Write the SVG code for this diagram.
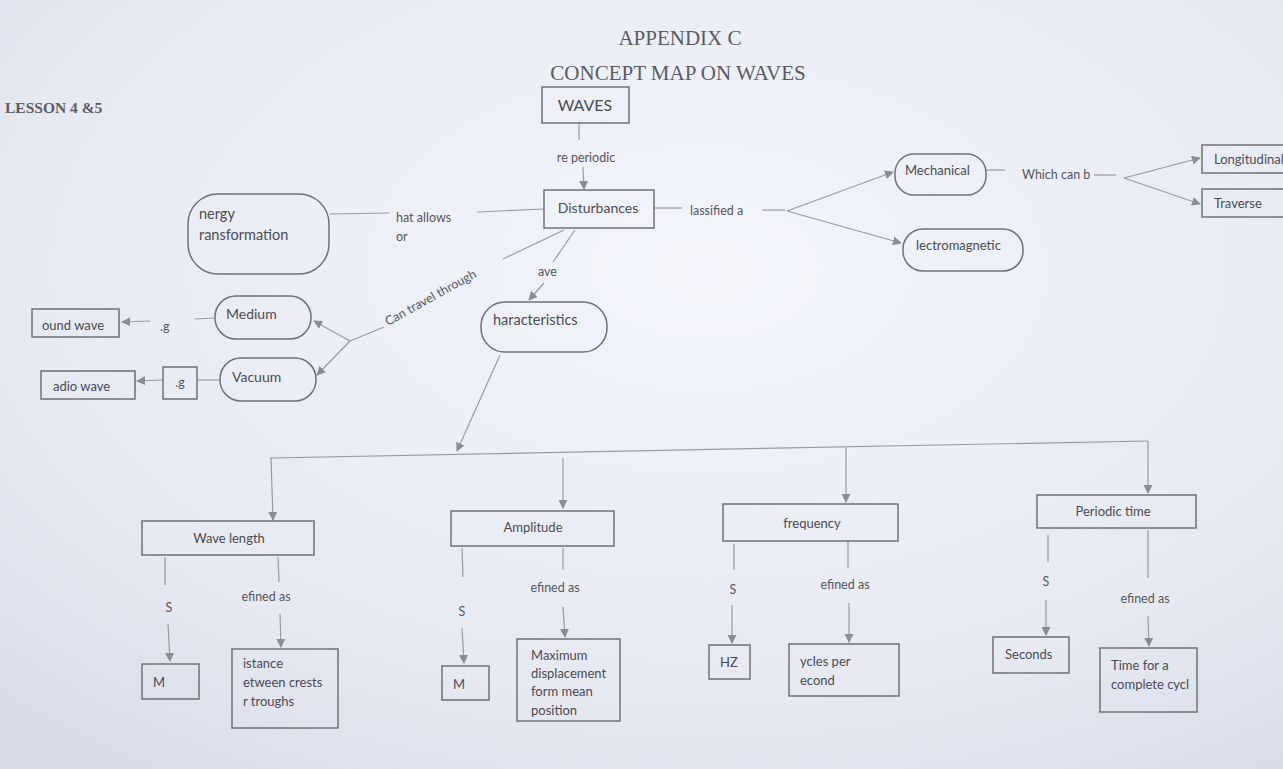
<svg xmlns="http://www.w3.org/2000/svg" width="1283" height="769" viewBox="0 0 1283 769">
<defs>
<radialGradient id="bg" cx="0.55" cy="0.35" r="0.8">
<stop offset="0" stop-color="#f3f5fb"/>
<stop offset="0.7" stop-color="#e6e9f2"/>
<stop offset="1" stop-color="#d8dce7"/>
</radialGradient>
<marker id="ah" viewBox="0 0 10 10" refX="9" refY="5" markerWidth="9" markerHeight="9" orient="auto" markerUnits="userSpaceOnUse">
<path d="M0,0 L10,5 L0,10 z" fill="#8a8d95"/>
</marker>
<style>
.bx{fill:none;stroke:#6f7177;stroke-width:1.5}
.ln{fill:none;stroke:#999ba2;stroke-width:1.2}
.ar{fill:none;stroke:#999ba2;stroke-width:1.2;marker-end:url(#ah)}
.t{font-family:Lato,"Open Sans",sans-serif;font-size:13px;fill:#4a4c52}
.tt{font-family:"Liberation Serif",serif;font-size:21px;fill:#5a5c62}
.lb{font-family:Lato,"Open Sans",sans-serif;font-size:12.5px;fill:#55575d}
</style>
</defs>
<rect width="1283" height="769" fill="url(#bg)"/>
<text class="tt" x="680" y="45" text-anchor="middle">APPENDIX C</text>
<text class="tt" x="678" y="80" text-anchor="middle">CONCEPT MAP ON WAVES</text>
<text x="5" y="113" style="font-family:'Liberation Serif',serif;font-size:15.5px;font-weight:bold;fill:#5a5c62">LESSON 4 &amp;5</text>

<g id="connectors">
<line class="ln" x1="579" y1="123" x2="579" y2="140"/>
<text class="lb" x="586" y="162" text-anchor="middle">re periodic</text>
<line class="ar" x1="583" y1="167" x2="584" y2="189"/>
<line class="ln" x1="544" y1="209" x2="477" y2="212"/>
<text class="lb" x="396" y="222">hat allows</text>
<text class="lb" x="396" y="241">or</text>
<line class="ln" x1="389" y1="213" x2="330" y2="214"/>
<line class="ln" x1="654" y1="208" x2="682" y2="208"/>
<text class="lb" x="690" y="215">lassified a</text>
<line class="ln" x1="762" y1="210" x2="785" y2="210"/>
<polyline class="ar" points="787,211 893,172"/>
<polyline class="ar" points="787,211 901,243"/>
<line class="ln" x1="986" y1="170" x2="1005" y2="170"/>
<text class="lb" x="1022" y="179">Which can b</text>
<line class="ln" x1="1094" y1="175" x2="1116" y2="175"/>
<line class="ar" x1="1124" y1="178" x2="1200" y2="158"/>
<line class="ar" x1="1124" y1="178" x2="1200" y2="204"/>
<line class="ln" x1="564" y1="230" x2="503" y2="259"/>
<text class="lb" transform="translate(388,326) rotate(-29)">Can travel through</text>
<line class="ln" x1="384" y1="327" x2="350" y2="341"/>
<line class="ar" x1="350" y1="341" x2="314" y2="321"/>
<line class="ar" x1="350" y1="341" x2="317" y2="375"/>
<line class="ln" x1="575" y1="230" x2="553" y2="262"/>
<text class="lb" x="538" y="276">ave</text>
<line class="ar" x1="544" y1="283" x2="529" y2="300"/>
<line class="ln" x1="215" y1="318" x2="195" y2="319"/>
<text class="lb" x="160" y="331">.g</text>
<line class="ar" x1="150" y1="321" x2="122" y2="322"/>
<line class="ln" x1="220" y1="380" x2="198" y2="380"/>
<line class="ar" x1="163" y1="380" x2="137" y2="381"/>
<line class="ar" x1="500" y1="355" x2="457" y2="451"/>
<line class="ln" x1="270" y1="458" x2="1148" y2="441"/>
<line class="ar" x1="271" y1="458" x2="273" y2="520"/>
<line class="ar" x1="563" y1="458" x2="563" y2="508"/>
<line class="ar" x1="846" y1="448" x2="846" y2="502"/>
<line class="ar" x1="1148" y1="441" x2="1148" y2="493"/>
<line class="ln" x1="165" y1="557" x2="165" y2="585"/>
<text class="lb" x="169" y="612" text-anchor="middle">S</text>
<line class="ar" x1="168" y1="624" x2="170" y2="661"/>
<line class="ln" x1="278" y1="557" x2="279" y2="582"/>
<text class="lb" x="266" y="601" text-anchor="middle">efined as</text>
<line class="ar" x1="280" y1="614" x2="281" y2="647"/>
<line class="ln" x1="462" y1="548" x2="463" y2="577"/>
<text class="lb" x="462" y="616" text-anchor="middle">S</text>
<line class="ar" x1="462" y1="628" x2="464" y2="663"/>
<line class="ln" x1="563" y1="548" x2="563" y2="570"/>
<text class="lb" x="555" y="592" text-anchor="middle">efined as</text>
<line class="ar" x1="563" y1="607" x2="565" y2="637"/>
<line class="ln" x1="734" y1="544" x2="734" y2="570"/>
<text class="lb" x="733" y="594" text-anchor="middle">S</text>
<line class="ar" x1="732" y1="605" x2="732" y2="643"/>
<line class="ln" x1="848" y1="541" x2="848" y2="568"/>
<text class="lb" x="845" y="589" text-anchor="middle">efined as</text>
<line class="ar" x1="849" y1="603" x2="849" y2="642"/>
<line class="ln" x1="1048" y1="535" x2="1048" y2="562"/>
<text class="lb" x="1046" y="586" text-anchor="middle">S</text>
<line class="ar" x1="1046" y1="600" x2="1046" y2="635"/>
<line class="ln" x1="1148" y1="530" x2="1148" y2="578"/>
<text class="lb" x="1145" y="603" text-anchor="middle">efined as</text>
<line class="ar" x1="1148" y1="616" x2="1149" y2="646"/>
</g>

<g id="n-waves"><rect class="bx" x="542" y="87" width="87" height="36"/><text class="t" x="585" y="111" text-anchor="middle" style="font-size:16px">WAVES</text></g>
<g id="n-disturbances"><rect class="bx" x="544" y="190" width="110" height="38"/><text class="t" x="598" y="213" text-anchor="middle" style="font-size:14px">Disturbances</text></g>
<g id="n-energy"><rect class="bx" x="188" y="194" width="141" height="80" rx="30"/><text class="t" x="199" y="219" style="font-size:14.5px">nergy</text><text class="t" x="199" y="240" style="font-size:14.5px">ransformation</text></g>
<g id="n-mechanical"><rect class="bx" x="895" y="154" width="91" height="41" rx="19"/><text class="t" x="905" y="175">Mechanical</text></g>
<g id="n-electromagnetic"><rect class="bx" x="903" y="229" width="120" height="42" rx="20"/><text class="t" x="916" y="250">lectromagnetic</text></g>
<g id="n-longitudinal"><rect class="bx" x="1202" y="145" width="83" height="28"/><text class="t" x="1214" y="164">Longitudinal</text></g>
<g id="n-traverse"><rect class="bx" x="1202" y="189" width="83" height="28"/><text class="t" x="1214" y="208">Traverse</text></g>
<g id="n-characteristics"><rect class="bx" x="481" y="302" width="126" height="50" rx="24"/><text class="t" x="493" y="325" style="font-size:14.5px">haracteristics</text></g>
<g id="n-medium"><rect class="bx" x="215" y="296" width="96" height="43" rx="21"/><text class="t" x="226" y="319" style="font-size:14px">Medium</text></g>
<g id="n-vacuum"><rect class="bx" x="220" y="358" width="96" height="43" rx="21"/><text class="t" x="232" y="382" style="font-size:14px">Vacuum</text></g>
<g id="n-sound"><rect class="bx" x="32" y="309" width="87" height="28"/><text class="t" x="42" y="330">ound wave</text></g>
<g id="n-eg"><rect class="bx" x="163" y="367" width="34" height="32"/><text class="lb" x="180" y="387" text-anchor="middle">.g</text></g>
<g id="n-radio"><rect class="bx" x="41" y="371" width="94" height="28"/><text class="t" x="53" y="391">adio wave</text></g>
<g id="n-wavelength"><rect class="bx" x="142" y="521" width="172" height="34"/><text class="t" x="229" y="543" text-anchor="middle">Wave length</text></g>
<g id="n-amplitude"><rect class="bx" x="451" y="511" width="163" height="35"/><text class="t" x="533" y="532" text-anchor="middle">Amplitude</text></g>
<g id="n-frequency"><rect class="bx" x="723" y="504" width="175" height="37"/><text class="t" x="812" y="528" text-anchor="middle">frequency</text></g>
<g id="n-periodic"><rect class="bx" x="1037" y="495" width="159" height="33"/><text class="t" x="1113" y="516" text-anchor="middle">Periodic time</text></g>
<g id="n-m1"><rect class="bx" x="142" y="664" width="57" height="35"/><text class="t" x="153" y="687">M</text></g>
<g id="n-distance"><rect class="bx" x="232" y="649" width="106" height="79"/><text class="t" x="243" y="668">istance</text><text class="t" x="243" y="687">etween crests</text><text class="t" x="243" y="706">r troughs</text></g>
<g id="n-m2"><rect class="bx" x="442" y="666" width="47" height="34"/><text class="t" x="453" y="689">M</text></g>
<g id="n-maxdisp"><rect class="bx" x="517" y="639" width="103" height="82"/><text class="t" x="531" y="660">Maximum</text><text class="t" x="531" y="678">displacement</text><text class="t" x="531" y="696">form mean</text><text class="t" x="531" y="715">position</text></g>
<g id="n-hz"><rect class="bx" x="709" y="645" width="41" height="34"/><text class="t" x="720" y="667">HZ</text></g>
<g id="n-cycles"><rect class="bx" x="789" y="644" width="110" height="52"/><text class="t" x="800" y="666">ycles per</text><text class="t" x="800" y="685">econd</text></g>
<g id="n-seconds"><rect class="bx" x="993" y="637" width="76" height="36"/><text class="t" x="1005" y="659">Seconds</text></g>
<g id="n-cycle"><rect class="bx" x="1100" y="648" width="97" height="64"/><text class="t" x="1111" y="670">Time for a</text><text class="t" x="1111" y="689">complete cycl</text></g>
</svg>
